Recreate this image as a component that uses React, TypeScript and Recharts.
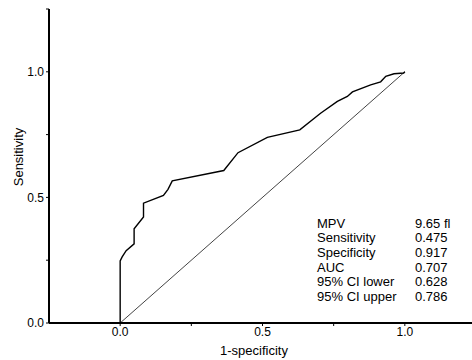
import React from "react";
import { LineChart, Line, XAxis, YAxis, Label } from "recharts";

// ROC curve
const fpr = [
  0, 0, 0.007, 0.021, 0.049, 0.049, 0.082, 0.082, 0.152, 0.168, 0.183, 0.364,
  0.414, 0.517, 0.631, 0.704, 0.763, 0.798, 0.816, 0.88, 0.915, 0.933, 0.962,
  0.996, 1,
];
const tpr = [
  0, 0.247, 0.263, 0.288, 0.315, 0.375, 0.422, 0.477, 0.508, 0.532, 0.566,
  0.607, 0.678, 0.739, 0.769, 0.835, 0.882, 0.902, 0.92, 0.948, 0.96, 0.982,
  0.992, 0.995, 1,
];
const refLine = [0, 1];

const axisTicks = [0, 0.25, 0.5, 0.75, 1, 1.25];
const labeledTicks = [0, 0.5, 1];

const statNames = ["MPV", "Sensitivity", "Specificity", "AUC", "95% CI lower", "95% CI upper"];
const statValues = ["9.65 fl", "0.475", "0.917", "0.707", "0.628", "0.786"];

const rocData = fpr.map((x, i) => ({ fpr: x, tpr: tpr[i] }));
const diagData = refLine.map((v) => ({ fpr: v, tpr: v }));

const FONT = "Arial, 'Liberation Sans', sans-serif";
const fmt = (v: number) => (labeledTicks.includes(v) ? v.toFixed(1) : "");

export default function App() {
  return (
    <div
      style={{
        position: "absolute",
        left: 0,
        top: 0,
        width: 472,
        height: 360,
        overflow: "hidden",
        background: "#fff",
        fontFamily: FONT,
      }}
    >
      <LineChart
        width={476}
        height={360}
        margin={{ top: 9, right: 0, bottom: 0, left: 0 }}
      >
        <XAxis
          dataKey="fpr"
          type="number"
          domain={[-0.25, 1.25]}
          ticks={axisTicks}
          tickFormatter={fmt}
          allowDataOverflow
          height={37}
          axisLine={{ stroke: "#000", strokeWidth: 2 }}
          tickLine={{ stroke: "#000" }}
          tickSize={3}
          tickMargin={1}
          tick={{ fontSize: 12, fill: "#000", fontFamily: FONT }}
        >
          <Label
            content={() => (
              <text
                x={254}
                y={355}
                textAnchor="middle"
                fontSize={13}
                fontFamily={FONT}
                fill="#000"
              >
                1-specificity
              </text>
            )}
          />
        </XAxis>
        <YAxis
          type="number"
          domain={[0, 1.25]}
          ticks={axisTicks}
          tickFormatter={fmt}
          allowDataOverflow
          width={49}
          axisLine={{ stroke: "#000", strokeWidth: 2 }}
          tickLine={{ stroke: "#000" }}
          tickSize={3}
          tickMargin={2}
          tick={{ fontSize: 12, fill: "#000", fontFamily: FONT }}
        >
          <Label
            content={() => (
              <text
                x={18}
                y={157}
                transform="rotate(-90 18 157)"
                textAnchor="middle"
                dominantBaseline="central"
                fontSize={13}
                fontFamily={FONT}
                fill="#000"
              >
                Sensitivity
              </text>
            )}
          />
        </YAxis>
        <Line
          data={diagData}
          dataKey="tpr"
          type="linear"
          stroke="#444"
          strokeWidth={1}
          dot={false}
          isAnimationActive={false}
        />
        <Line
          data={rocData}
          dataKey="tpr"
          type="linear"
          stroke="#000"
          strokeWidth={1.4}
          dot={false}
          isAnimationActive={false}
        />
      </LineChart>
      {statNames.map((name, i) => (
        <div
          key={name}
          style={{
            position: "absolute",
            top: 216.5 + i * 14.7,
            left: 317,
            fontSize: 13,
            lineHeight: "14.7px",
            color: "#000",
            whiteSpace: "nowrap",
          }}
        >
          <span style={{ display: "inline-block", width: 98 }}>{name}</span>
          <span>{statValues[i]}</span>
        </div>
      ))}
    </div>
  );
}
